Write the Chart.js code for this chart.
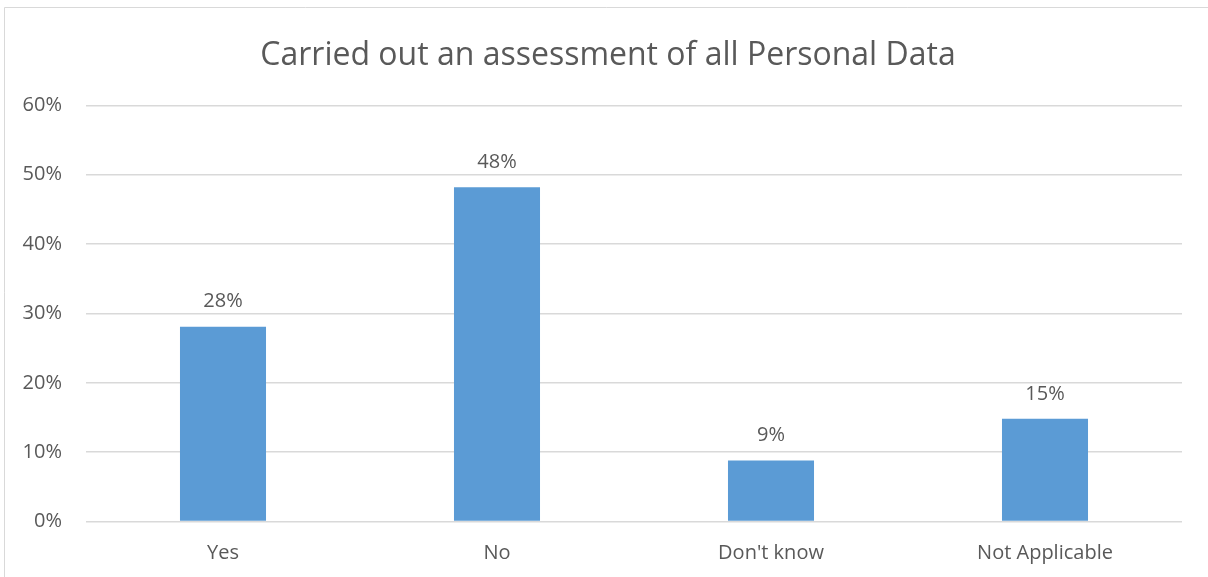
<!DOCTYPE html>
<html>
<head>
<meta charset="utf-8">
<script src="https://cdn.jsdelivr.net/npm/chart.js@4.4.1/dist/chart.umd.min.js"></script>
<style>
  html, body { margin: 0; padding: 0; background: #fff; }
  #wrap { width: 1208px; height: 577px; position: relative; }
</style>
</head>
<body>
<div id="wrap"><canvas id="c" width="1208" height="577"></canvas></div>
<script>
const categories = ["Yes", "No", "Don't know", "Not Applicable"];
const values = [28.1, 48.2, 8.8, 14.8];
const valueLabels = ["28%", "48%", "9%", "15%"];
const yTicks = [0, 10, 20, 30, 40, 50, 60];
const titleText = "Carried out an assessment of all Personal Data";

const textColor = "#595959";
const fontFamily = "'Open Sans', 'Noto Sans', sans-serif";

const frame = {
  id: 'frame',
  beforeDraw(chart) {
    const ctx = chart.ctx;
    ctx.save();
    ctx.fillStyle = '#fff';
    ctx.fillRect(0, 0, chart.width, chart.height);
    ctx.strokeStyle = '#d9d9d9';
    ctx.lineWidth = 1;
    ctx.beginPath();
    ctx.moveTo(4.5, chart.height + 2);
    ctx.lineTo(4.5, 7.5);
    ctx.lineTo(chart.width + 2, 7.5);
    ctx.stroke();
    ctx.restore();
  }
};

const barLabels = {
  id: 'barLabels',
  afterDatasetsDraw(chart) {
    const ctx = chart.ctx;
    const meta = chart.getDatasetMeta(0);
    ctx.save();
    ctx.fillStyle = textColor;
    ctx.font = "20px " + fontFamily;
    ctx.textAlign = 'center';
    ctx.textBaseline = 'middle';
    meta.data.forEach((bar, i) => {
      ctx.fillText(valueLabels[i], bar.x, bar.y - 25);
    });
    ctx.restore();
  }
};

new Chart(document.getElementById('c'), {
  type: 'bar',
  data: {
    labels: categories,
    datasets: [{
      data: values,
      backgroundColor: '#5b9bd5',
      borderWidth: 0,
      barPercentage: 1,
      categoryPercentage: 0.314
    }]
  },
  options: {
    responsive: false,
    animation: false,
    layout: { padding: { left: 8, right: 0, top: 0, bottom: 10 } },
    plugins: {
      legend: { display: false },
      tooltip: { enabled: false },
      title: {
        display: true,
        text: titleText,
        color: textColor,
        font: { family: fontFamily, size: 32, weight: 'normal' },
        padding: { top: 37, bottom: 30 }
      }
    },
    scales: {
      x: {
        grid: { display: false, drawTicks: false },
        border: { display: false },
        ticks: {
          color: textColor,
          font: { family: fontFamily, size: 20 },
          padding: 20
        },
        afterFit(scale) { scale.height = 577 - 521.5 - 10; }
      },
      y: {
        min: 0,
        max: 60,
        afterBuildTicks(scale) { scale.ticks = yTicks.map(v => ({ value: v })); },
        grid: { color: '#d9d9d9', lineWidth: 1.5, drawTicks: false },
        border: { display: false },
        ticks: {
          color: textColor,
          font: { family: fontFamily, size: 20 },
          padding: 24,
          callback: v => v + '%'
        },
        afterFit(scale) { scale.width = 78; }
      },
      yRight: {
        position: 'right',
        display: true,
        min: 0,
        max: 60,
        grid: { display: false, drawTicks: false },
        border: { display: false },
        ticks: { display: false },
        afterFit(scale) { scale.width = 26; }
      }
    }
  },
  plugins: [frame, barLabels]
});
</script>
</body>
</html>
